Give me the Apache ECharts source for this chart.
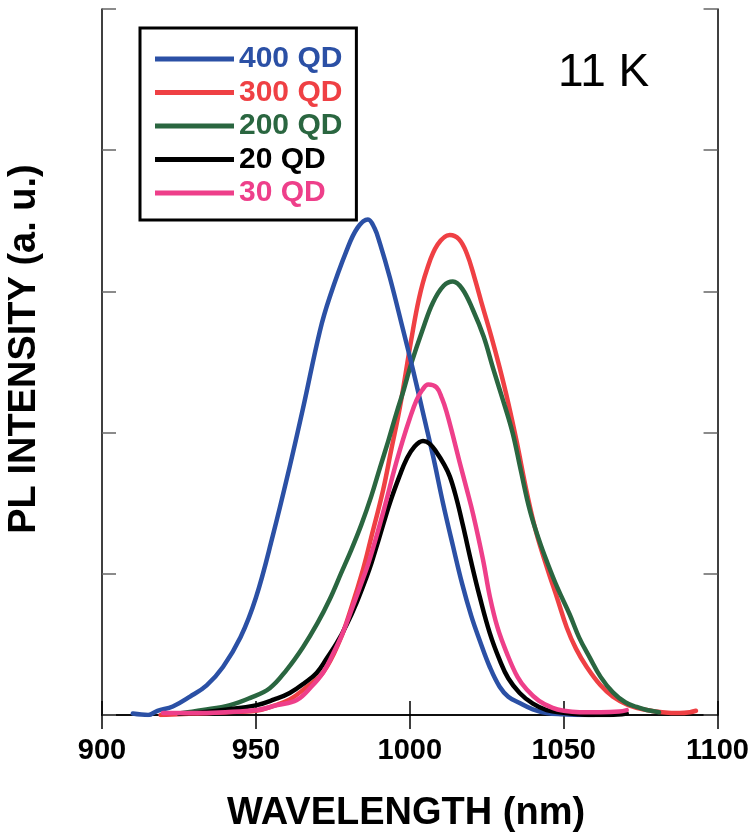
<!DOCTYPE html>
<html>
<head>
<meta charset="utf-8">
<script src="https://cdn.jsdelivr.net/npm/echarts@6/dist/echarts.min.js"></script>
<style>
html,body{margin:0;padding:0;background:#fff;}
#chart{width:752px;height:835px;}
</style>
</head>
<body>
<div id="chart"></div>
<script>
// ---- data (wavelength nm, PL intensity a.u.) ----
var seriesNames = ['400 QD', '300 QD', '200 QD', '20 QD', '30 QD'];
var seriesColors = ['#2b50a5', '#ef4044', '#2a6640', '#000000', '#ee3f8a'];

var qd400_x = [910, 915, 918, 923, 928.6, 934, 939.3, 945, 950, 955.5, 961, 965.3, 970.8, 974, 979.5, 983, 986.4, 988.5, 990.3, 993.5, 997.8, 1001.1, 1004.3, 1007.6, 1010.8, 1014, 1017, 1020, 1022.7, 1026, 1029.2, 1032, 1035.7, 1040, 1044.5, 1050, 1055, 1060];
var qd400_y = [0.01, 0.0, 0.03, 0.06, 0.13, 0.21, 0.34, 0.55, 0.83, 1.27, 1.76, 2.17, 2.72, 2.96, 3.29, 3.45, 3.51, 3.45, 3.34, 3.10, 2.73, 2.44, 2.14, 1.83, 1.50, 1.20, 0.93, 0.70, 0.53, 0.34, 0.20, 0.13, 0.085, 0.04, 0.014, 0.005, 0.0, 0.0];

var qd300_x = [919, 930, 940, 950, 955, 961, 966, 971.8, 977.3, 981, 984.8, 987.5, 991.3, 994, 996.8, 1000.5, 1003, 1005.5, 1009, 1013, 1016, 1018.5, 1021, 1023.7, 1026.5, 1029.2, 1032, 1034.7, 1038, 1041, 1044.5, 1048, 1051, 1054, 1057.5, 1062, 1066, 1071, 1077, 1082, 1087.7, 1091, 1093];
var qd300_y = [0.0, 0.01, 0.02, 0.03, 0.06, 0.11, 0.19, 0.30, 0.53, 0.76, 1.03, 1.26, 1.59, 1.88, 2.18, 2.66, 2.95, 3.15, 3.33, 3.40, 3.37, 3.27, 3.10, 2.89, 2.68, 2.46, 2.21, 1.94, 1.58, 1.30, 1.05, 0.82, 0.62, 0.47, 0.34, 0.21, 0.13, 0.07, 0.035, 0.02, 0.014, 0.02, 0.03];

var qd200_x = [925, 932.8, 941.6, 948, 954.5, 960, 965.3, 970, 974, 977.8, 981, 984.3, 987.5, 990.3, 993, 995.7, 998, 1000.5, 1004.2, 1007.5, 1011, 1014, 1017, 1020.5, 1024, 1027, 1030, 1033.4, 1036, 1039, 1042, 1044.5, 1048, 1052, 1055, 1058.4, 1062, 1066, 1070, 1073.7, 1077, 1081];
var qd200_y = [0.01, 0.035, 0.07, 0.12, 0.19, 0.32, 0.48, 0.65, 0.82, 1.01, 1.17, 1.35, 1.55, 1.75, 1.94, 2.14, 2.30, 2.49, 2.73, 2.92, 3.04, 3.07, 3.02, 2.87, 2.68, 2.46, 2.25, 2.00, 1.74, 1.45, 1.24, 1.09, 0.90, 0.71, 0.55, 0.41, 0.27, 0.16, 0.09, 0.057, 0.035, 0.02];

var qd20_x = [925, 932.8, 939.3, 950.3, 956, 961, 966, 969.8, 973, 976.3, 979.5, 982.8, 986, 987.6, 990, 993.5, 996.8, 998.9, 1001.5, 1004.3, 1006.5, 1008.7, 1011, 1013, 1015.2, 1017.3, 1020, 1022.7, 1026, 1029.2, 1032, 1035.7, 1040, 1044.5, 1050, 1055, 1060, 1065, 1070.5];
var qd20_y = [0.01, 0.02, 0.035, 0.07, 0.11, 0.156, 0.23, 0.30, 0.40, 0.51, 0.64, 0.80, 0.98, 1.08, 1.25, 1.50, 1.70, 1.81, 1.90, 1.94, 1.92, 1.86, 1.78, 1.69, 1.53, 1.34, 1.08, 0.84, 0.58, 0.39, 0.26, 0.156, 0.08, 0.035, 0.015, 0.005, 0.0, 0.0, 0.01];

var qd30_x = [919.8, 928.6, 940, 950.3, 957, 963.3, 968, 971.8, 975, 978.2, 981.5, 984.7, 986.5, 989.5, 992.4, 995, 997.8, 1000, 1002.2, 1004, 1006, 1008.7, 1010.5, 1011.9, 1014, 1016.2, 1018.5, 1020.6, 1023.8, 1026, 1028.5, 1031.5, 1035, 1038, 1042, 1046.4, 1050, 1055.2, 1062, 1068, 1070.5];
var qd30_y = [0.015, 0.014, 0.02, 0.035, 0.07, 0.106, 0.20, 0.30, 0.43, 0.58, 0.77, 0.96, 1.07, 1.29, 1.52, 1.74, 1.95, 2.10, 2.23, 2.30, 2.34, 2.32, 2.24, 2.15, 1.98, 1.79, 1.60, 1.42, 1.10, 0.84, 0.62, 0.44, 0.27, 0.18, 0.10, 0.05, 0.03, 0.02, 0.02, 0.025, 0.035];

var xTicks = [900, 950, 1000, 1050, 1100];
var annotation = '11 K';
var xTitle = 'WAVELENGTH (nm)';
var yTitle = 'PL INTENSITY (a. u.)';

function pairs(xs, ys) { return xs.map(function (x, i) { return [x, ys[i]]; }); }
var allX = [qd400_x, qd300_x, qd200_x, qd20_x, qd30_x];
var allY = [qd400_y, qd300_y, qd200_y, qd20_y, qd30_y];
var zOrder = [4, 2, 3, 5, 6];

var FONT = 'Liberation Sans, Arial, sans-serif';
var chart = echarts.init(document.getElementById('chart'), null, {renderer: 'canvas'});

var series = seriesNames.map(function (n, i) {
  return {
    name: n, type: 'line', data: pairs(allX[i], allY[i]),
    showSymbol: false, symbol: 'none', smooth: 0.4,
    lineStyle: {color: seriesColors[i], width: 4.5, join: 'round', cap: 'round'},
    itemStyle: {color: seriesColors[i]},
    z: zOrder[i], animation: false
  };
});

var axisLine = {show: true, lineStyle: {color: '#000', width: 1.5}};
chart.setOption({
  backgroundColor: '#fff',
  animation: false,
  grid: {left: 102, top: 9, right: 34, bottom: 120},
  title: {
    text: annotation, left: 553, top: 45,
    textStyle: {fontFamily: FONT, fontSize: 46, fontWeight: 'normal', color: '#000'}
  },
  legend: {
    orient: 'vertical', left: 140, top: 28,
    padding: [16, 14, 12, 15],
    itemGap: 3.5, itemWidth: 79, itemHeight: 5, icon: 'rect',
    borderColor: '#000', borderWidth: 3, backgroundColor: '#fff',
    selectedMode: false,
    textStyle: {fontFamily: FONT, fontSize: 30, fontWeight: 'bold'},
    data: seriesNames.map(function (n, i) {
      return {name: n, textStyle: {color: seriesColors[i]}, itemStyle: {color: seriesColors[i]}};
    })
  },
  graphic: [{
    type: 'text', x: 406, y: 814, z: 10,
    style: {text: xTitle, align: 'center', verticalAlign: 'middle', textAlign: 'center', textVerticalAlign: 'middle',
      font: 'bold 38px Liberation Sans, Arial, sans-serif', fill: '#000'}
  }, {
    type: 'text', x: 25, y: 349, rotation: Math.PI / 2, z: 10,
    style: {text: yTitle, align: 'center', verticalAlign: 'middle', textAlign: 'center', textVerticalAlign: 'middle',
      font: 'bold 38px Liberation Sans, Arial, sans-serif', fill: '#000'}
  }],
  xAxis: [{
    type: 'value', min: 900, max: 1100, interval: 50, position: 'bottom',
    axisLine: axisLine,
    axisTick: {show: true, inside: true, length: 14, lineStyle: {color: '#000', width: 1.5}},
    splitLine: {show: false},
    axisLabel: {margin: 21, fontFamily: FONT, fontSize: 29, fontWeight: 'bold', color: '#000',
      formatter: function (v) { return xTicks.indexOf(v) >= 0 ? String(v) : ''; }}
  }, {
    type: 'value', min: 900, max: 1100, interval: 50, position: 'top',
    axisLine: axisLine,
    axisTick: {show: true, inside: true, length: 14, lineStyle: {color: '#000', width: 1.5}},
    splitLine: {show: false}, axisLabel: {show: false}
  }],
  yAxis: [{
    type: 'value', min: 0, max: 5, interval: 1, position: 'left',
    axisLine: axisLine,
    axisTick: {show: true, inside: true, length: 14, lineStyle: {color: '#666', width: 1.5}},
    splitLine: {show: false}, axisLabel: {show: false}
  }, {
    type: 'value', min: 0, max: 5, interval: 1, position: 'right',
    axisLine: axisLine,
    axisTick: {show: true, inside: true, length: 14, lineStyle: {color: '#666', width: 1.5}},
    splitLine: {show: false}, axisLabel: {show: false}
  }],
  series: series
});
</script>
</body>
</html>
